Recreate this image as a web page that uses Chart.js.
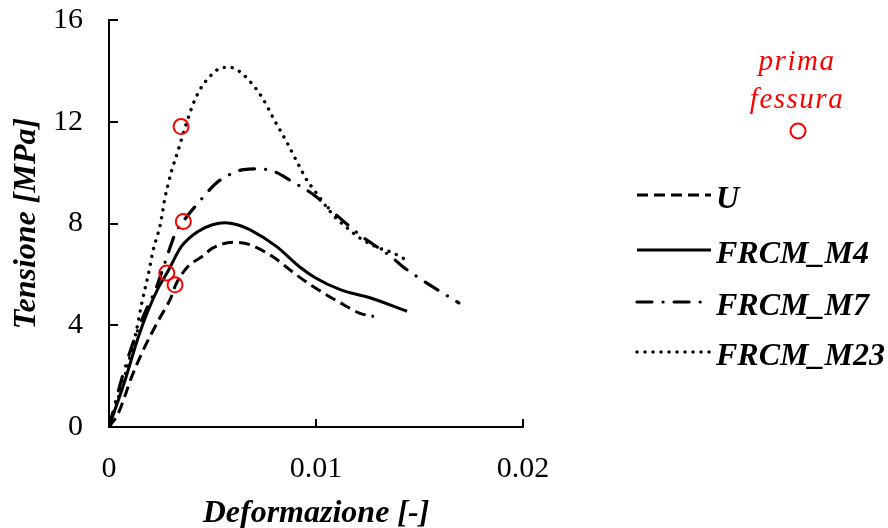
<!DOCTYPE html>
<html><head><meta charset="utf-8">
<script src="https://cdn.jsdelivr.net/npm/chart.js@4"></script>
<style>html,body{margin:0;padding:0;background:#fff}#wrap{width:888px;height:528px;position:relative}</style>
</head><body><div id="wrap"><canvas id="c" width="888" height="528"></canvas></div>
<script>
// ---- data ----
const seriesNames = ['U', 'FRCM_M4', 'FRCM_M7', 'FRCM_M23'];

const uStrain = [0, 0.00045, 0.0011, 0.0017, 0.0024, 0.0030, 0.0032, 0.0038, 0.0045, 0.0050, 0.0060, 0.0068, 0.0079, 0.0091, 0.0099, 0.0112, 0.0121, 0.0128];
const uStress = [0, 0.54, 1.98, 3.1, 4.21, 5.1, 5.55, 6.3, 6.7, 7.03, 7.26, 7.17, 6.7, 5.95, 5.5, 4.87, 4.48, 4.34];

const m4Strain = [0, 0.0008, 0.0014, 0.0019, 0.0024, 0.0028, 0.0035, 0.0043, 0.0050, 0.0056, 0.0062, 0.0068, 0.0081, 0.0092, 0.0099, 0.0112, 0.0126, 0.0144];
const m4Stress = [0, 1.9, 3.5, 4.6, 5.5, 6.05, 7.1, 7.69, 7.95, 8.03, 7.95, 7.76, 7.09, 6.3, 5.9, 5.39, 5.08, 4.55];

const m7Strain = [0, 0.0006, 0.0012, 0.0019, 0.0022, 0.0027, 0.0032, 0.0036, 0.0043, 0.0052, 0.0059, 0.0065, 0.0073, 0.0081, 0.0087, 0.0100, 0.0107, 0.0118, 0.0123, 0.0137, 0.0142, 0.0149, 0.0161, 0.0169];
const m7Stress = [0, 1.85, 3.4, 4.8, 5.3, 6.45, 7.6, 8.1, 8.8, 9.6, 9.95, 10.12, 10.15, 10.0, 9.72, 9.06, 8.54, 7.76, 7.44, 6.65, 6.3, 5.9, 5.28, 4.88];

const m23Strain = [0, 0.0008, 0.0013, 0.0016, 0.0019, 0.00214, 0.0023, 0.00246, 0.00258, 0.0027, 0.00287, 0.0030, 0.00335, 0.0036, 0.0040, 0.00435, 0.00483, 0.0055, 0.0059, 0.0063, 0.0069, 0.0074, 0.0080, 0.0086, 0.0092, 0.0096, 0.0099, 0.0105, 0.0109, 0.0115, 0.0121, 0.0130, 0.0137, 0.0145];
const m23Stress = [0, 2.1, 3.7, 4.93, 6.0, 6.97, 7.43, 7.89, 8.41, 9.0, 9.59, 10.0, 10.9, 11.57, 12.56, 13.2, 13.74, 14.13, 14.13, 13.98, 13.5, 12.95, 12.05, 11.18, 10.24, 9.65, 9.33, 8.66, 8.27, 7.83, 7.44, 7.05, 6.85, 6.5];

// first crack ("prima fessura") points, same order as seriesNames
const crackStrain = [0.00319, 0.00279, 0.00359, 0.00348];
const crackStress = [5.59, 6.05, 8.08, 11.81];

const xTicks = [0, 0.01, 0.02];
const yTicks = [0, 4, 8, 12, 16];
const xTitle = 'Deformazione [-]';
const yTitle = 'Tensione [MPa]';
const crackLabel = ['prima', 'fessura'];

// ---- chart ----
const serif = "'Liberation Serif', 'Times New Roman', serif";
const toPts = (xs, ys) => xs.map((x, i) => ({x: x, y: ys[i]}));

const lineStyles = [
  {borderWidth: 3, borderDash: [11, 6], borderCapStyle: 'butt'},
  {borderWidth: 3, borderDash: [], borderCapStyle: 'butt'},
  {borderWidth: 3.2, borderDash: [15, 11, 0.1, 11], borderCapStyle: 'round'},
  {borderWidth: 3.4, borderDash: [0.1, 7.9], borderCapStyle: 'round'}
];
const seriesData = [toPts(uStrain, uStress), toPts(m4Strain, m4Stress), toPts(m7Strain, m7Stress), toPts(m23Strain, m23Stress)];

const datasets = seriesNames.map((n, i) => Object.assign({
  label: n, data: seriesData[i], borderColor: '#000', backgroundColor: '#000',
  pointRadius: 0, fill: false, cubicInterpolationMode: 'monotone', order: 1
}, lineStyles[i]));
datasets.push({
  label: 'prima fessura', data: toPts(crackStrain, crackStress), showLine: false,
  pointRadius: 7.5, pointStyle: 'circle', pointBorderColor: '#ff0000', pointBackgroundColor: 'rgba(0,0,0,0)',
  pointBorderWidth: 2, borderColor: '#ff0000', order: 0
});

const noPad = s => { s.paddingTop = 0; s.paddingBottom = 0; s.paddingLeft = 0; s.paddingRight = 0; };

const decor = {
  id: 'decor',
  afterDraw(chart) {
    const ctx = chart.ctx, xs = chart.scales.x, ys = chart.scales.y, a = chart.chartArea;
    ctx.save();
    // inside tick marks
    ctx.strokeStyle = '#000'; ctx.lineWidth = 2; ctx.setLineDash([]);
    xTicks.forEach(v => { if (v === 0) return; const px = Math.round(xs.getPixelForValue(v)); ctx.beginPath(); ctx.moveTo(px, a.bottom); ctx.lineTo(px, a.bottom - 8); ctx.stroke(); });
    yTicks.forEach(v => { if (v === 0) return; const py = Math.round(ys.getPixelForValue(v)); ctx.beginPath(); ctx.moveTo(a.left, py); ctx.lineTo(a.left + 9, py); ctx.stroke(); });
    // legend
    const rows = [195, 250, 302, 352];
    seriesNames.forEach((n, i) => {
      const ds = chart.data.datasets[i];
      ctx.strokeStyle = '#000'; ctx.lineWidth = ds.borderWidth; ctx.lineCap = ds.borderCapStyle; ctx.setLineDash(ds.borderDash);
      ctx.beginPath(); ctx.moveTo(637, rows[i]); ctx.lineTo(711, rows[i]); ctx.stroke();
      ctx.setLineDash([]);
      ctx.fillStyle = '#000'; ctx.font = "italic bold 32px " + serif; ctx.textAlign = 'left'; ctx.textBaseline = 'alphabetic';
      ctx.fillText(n, 716, rows[i] + 13);
    });
    // first crack legend
    ctx.fillStyle = '#ff0000'; ctx.font = "italic 29px " + serif; ctx.textAlign = 'center';
    try { ctx.letterSpacing = '1.5px'; } catch (e) {}
    ctx.fillText(crackLabel[0], 797, 70);
    ctx.fillText(crackLabel[1], 797, 108);
    try { ctx.letterSpacing = '0px'; } catch (e) {}
    ctx.strokeStyle = '#ff0000'; ctx.lineWidth = 2; ctx.setLineDash([]);
    ctx.beginPath(); ctx.arc(798, 131, 7.5, 0, Math.PI * 2); ctx.stroke();
    ctx.restore();
  }
};

new Chart(document.getElementById('c'), {
  type: 'line',
  data: {datasets: datasets},
  plugins: [decor],
  options: {
    responsive: false, animation: false, devicePixelRatio: 1,
    layout: {padding: {left: 0, right: 365, top: 20, bottom: 0}},
    plugins: {legend: {display: false}, tooltip: {enabled: false}},
    scales: {
      x: {
        type: 'linear', min: 0, max: 0.02,
        afterBuildTicks: s => { s.ticks = xTicks.map(v => ({value: v})); },
        afterFit: s => { s.height = 101; noPad(s); },
        ticks: {color: '#000', font: {family: serif, size: 30}, padding: 24, maxRotation: 0, autoSkip: false,
          callback: v => String(v)},
        grid: {display: true, drawOnChartArea: false, drawTicks: false},
        border: {display: true, color: '#000', width: 2},
        title: {display: true, text: xTitle, color: '#000', font: {family: serif, size: 32, style: 'italic', weight: 'bold'}, padding: {top: 0, bottom: -5}}
      },
      y: {
        type: 'linear', min: 0, max: 16,
        afterBuildTicks: s => { s.ticks = yTicks.map(v => ({value: v})); },
        afterFit: s => { s.width = 109; noPad(s); },
        ticks: {color: '#000', font: {family: serif, size: 30}, padding: 26, autoSkip: false, callback: v => String(v)},
        grid: {display: true, drawOnChartArea: false, drawTicks: false},
        border: {display: true, color: '#000', width: 2},
        title: {display: true, text: yTitle, color: '#000', font: {family: serif, size: 32, style: 'italic', weight: 'bold'}, padding: {top: 8, bottom: 0}}
      }
    }
  }
});
</script></body></html>
